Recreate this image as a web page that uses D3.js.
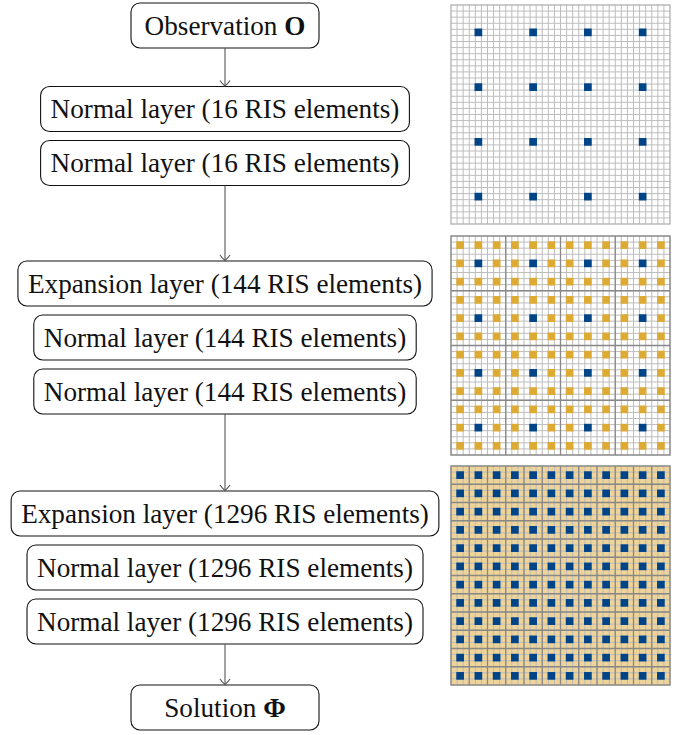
<!DOCTYPE html>
<html>
<head>
<meta charset="utf-8">
<script src="https://cdn.jsdelivr.net/npm/d3@7"></script>
<style>
  html, body { margin: 0; padding: 0; background: #fff; }
  svg { display: block; }
  .node-box  { fill: #fff; stroke: #111; stroke-width: 1.1; }
  .node-text { font-family: "Liberation Serif", "Times New Roman", serif; font-size: 27.2px; fill: #111; }
  .flow-arrow { fill: none; stroke: #555; stroke-width: 1.1; }
</style>
</head>
<body>
<div id="chart"></div>
<script>
/* ── Flow nodes, top to bottom ── */
const nodeKinds   = ["Observation", "Normal", "Normal", "Expansion", "Normal", "Normal", "Expansion", "Normal", "Normal", "Solution"];
const nodeElems   = [null, 16, 16, 144, 144, 144, 1296, 1296, 1296, null];
const nodeStage   = [0, 1, 1, 2, 2, 2, 3, 3, 3, 4];
const nodeSymbols = ["O", null, null, null, null, null, null, null, null, "Φ"];

/* ── RIS element grids (active elements per side, full resolution 36×36) ── */
const gridSides = [4, 12, 36];
const gridRes   = 36;

const COLORS = { blue: '#004488', gold: '#DDAA33', fine: '#bdbdbd', group: '#888888' };

function render() {
    const W = 691, H = 735;
    const CX       = 225;
    const BOX_H    = 45;
    const ROW      = 54;
    const PAD      = 10;
    const MIN_W    = 188;
    const stageTop = [3, 86.5, 261, 491, 685];
    const gridX    = 451;
    const gridSize = 219;
    const gridTop  = [5, 236, 466];
    const gridNewOpacity = [1, 1, 0.5];

    const svg = d3.select('#chart').append('svg')
        .attr('width', W).attr('height', H);

    /* ── Node boxes ── */
    const nodes = nodeKinds.map((k, i) => ({
        kind: k, elems: nodeElems[i], stage: nodeStage[i], sym: nodeSymbols[i]
    }));
    const firstInStage = {};
    nodes.forEach((d, i) => {
        if (firstInStage[d.stage] === undefined) firstInStage[d.stage] = i;
        d.y = stageTop[d.stage] + (i - firstInStage[d.stage]) * ROW;
    });

    const nodeG = svg.append('g').selectAll('g').data(nodes).join('g')
        .attr('transform', d => `translate(${CX},${d.y})`);

    const rects = nodeG.append('rect').attr('class', 'node-box')
        .attr('rx', 9).attr('ry', 9).attr('y', 0).attr('height', BOX_H);

    const texts = nodeG.append('text').attr('class', 'node-text')
        .attr('text-anchor', 'middle')
        .attr('y', BOX_H / 2 + 9);

    texts.each(function(d) {
        const t = d3.select(this);
        if (d.elems !== null) {
            t.text(`${d.kind} layer (${d.elems} RIS elements)`);
        } else {
            t.append('tspan').text(d.kind + ' ');
            t.append('tspan').attr('font-weight', 'bold').text(d.sym);
        }
        d.w = Math.max(MIN_W, this.getComputedTextLength() + PAD * 2);
    });
    rects.attr('x', d => -d.w / 2).attr('width', d => d.w);

    /* ── Arrows between stages ── */
    const arrows = [];
    for (let s = 0; s < stageTop.length - 1; s++) {
        const last = nodes.filter(d => d.stage === s).pop();
        arrows.push({ y1: last.y + BOX_H, y2: stageTop[s + 1] });
    }
    const arrowG = svg.append('g');
    arrowG.selectAll('line').data(arrows).join('line')
        .attr('class', 'flow-arrow')
        .attr('x1', CX).attr('x2', CX)
        .attr('y1', d => d.y1).attr('y2', d => d.y2 - 0.5);
    arrowG.selectAll('path').data(arrows).join('path')
        .attr('class', 'flow-arrow')
        .attr('d', d => `M${CX - 5},${d.y2 - 6} C${CX - 3},${d.y2 - 3} ${CX - 0.8},${d.y2 - 1.2} ${CX},${d.y2 - 0.5}` +
                        ` C${CX + 0.8},${d.y2 - 1.2} ${CX + 3},${d.y2 - 3} ${CX + 5},${d.y2 - 6}`);

    /* ── Grids ── */
    const sc = d3.scaleLinear().domain([0, gridRes]).range([0, gridSize]);
    const cell = sc(1) - sc(0);

    gridSides.forEach((n, g) => {
        const G = svg.append('g').attr('transform', `translate(${gridX},${gridTop[g]})`);
        const block  = gridRes / n;
        const pn     = g > 0 ? gridSides[g - 1] : n;
        const pblock = gridRes / pn;

        const isOld = (r, c) => r % pblock === Math.floor(pblock / 2) && c % pblock === Math.floor(pblock / 2);

        const cells = [];
        for (let r = 0; r < gridRes; r++) {
            for (let c = 0; c < gridRes; c++) {
                if (r % block === Math.floor(block / 2) && c % block === Math.floor(block / 2)) {
                    cells.push({ r, c, old: g === 0 || isOld(r, c) });
                }
            }
        }

        const newCells = cells.filter(d => !d.old);
        const oldCells = cells.filter(d => d.old);
        const grow = 1.6;

        // translucent new cells go under the fine grid
        if (gridNewOpacity[g] < 1) {
            G.append('g').selectAll('rect').data(newCells).join('rect')
                .attr('x', d => sc(d.c)).attr('y', d => sc(d.r))
                .attr('width', cell + 0.1).attr('height', cell + 0.1)
                .attr('fill', COLORS.gold).attr('fill-opacity', gridNewOpacity[g]);
        }

        // fine grid lines
        const ticks = d3.range(1, gridRes);
        G.append('g').selectAll('line.v').data(ticks).join('line')
            .attr('x1', d => sc(d)).attr('x2', d => sc(d))
            .attr('y1', 0).attr('y2', gridSize)
            .attr('stroke', COLORS.fine).attr('stroke-width', 1);
        G.append('g').selectAll('line.h').data(ticks).join('line')
            .attr('y1', d => sc(d)).attr('y2', d => sc(d))
            .attr('x1', 0).attr('x2', gridSize)
            .attr('stroke', COLORS.fine).attr('stroke-width', 1);

        if (gridNewOpacity[g] >= 1) {
            G.append('g').selectAll('rect').data(newCells).join('rect')
                .attr('x', d => sc(d.c) - grow / 2).attr('y', d => sc(d.r) - grow / 2)
                .attr('width', cell + grow).attr('height', cell + grow)
                .attr('fill', COLORS.gold);
        }

        G.append('g').selectAll('rect').data(oldCells).join('rect')
            .attr('x', d => sc(d.c) - grow / 2).attr('y', d => sc(d.r) - grow / 2)
            .attr('width', cell + grow).attr('height', cell + grow)
            .attr('fill', COLORS.blue);

        // group lines (previous stage's element boundaries)
        if (g > 0) {
            const gt = d3.range(pblock, gridRes, pblock);
            G.append('g').selectAll('line.gv').data(gt).join('line')
                .attr('x1', d => sc(d)).attr('x2', d => sc(d))
                .attr('y1', 0).attr('y2', gridSize)
                .attr('stroke', COLORS.group).attr('stroke-width', 1.3);
            G.append('g').selectAll('line.gh').data(gt).join('line')
                .attr('y1', d => sc(d)).attr('y2', d => sc(d))
                .attr('x1', 0).attr('x2', gridSize)
                .attr('stroke', COLORS.group).attr('stroke-width', 1.3);
        }

        G.append('rect')
            .attr('x', 0).attr('y', 0).attr('width', gridSize).attr('height', gridSize)
            .attr('fill', 'none')
            .attr('stroke', g > 0 ? COLORS.group : '#b0b0b0')
            .attr('stroke-width', g > 0 ? 1.5 : 1.3);
    });
}

render();
</script>
</body>
</html>
